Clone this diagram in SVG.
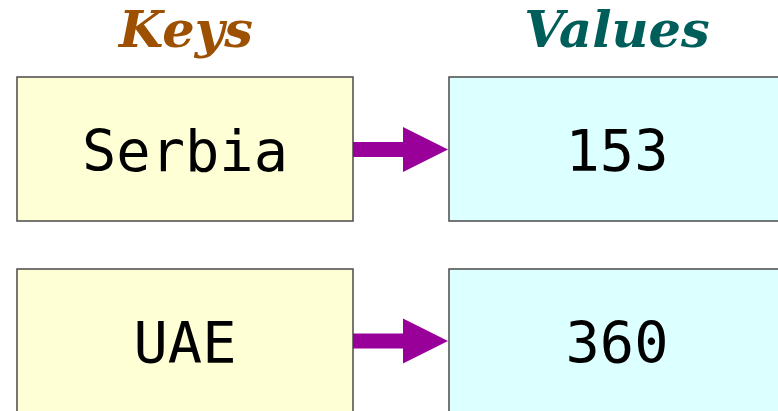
<svg xmlns="http://www.w3.org/2000/svg" width="778" height="411" viewBox="0 0 778 411">
  <defs>
    <style>
      .hdr { font-family: "DejaVu Serif", "Liberation Serif", serif; font-weight: bold; font-style: italic; font-size: 51px; text-anchor: middle; }
      .key rect { fill: #ffffd6; stroke: #4a4a4a; stroke-width: 1.5; }
      .val rect { fill: #dcffff; stroke: #4a4a4a; stroke-width: 1.5; }
      .lbl { font-family: "DejaVu Sans Mono", "Liberation Mono", monospace; font-size: 57px; fill: #000; text-anchor: middle; }
      .arrow { fill: #990099; }
    </style>
    <!-- block arrow centred on y=0, running from x=0 to x=95 -->
    <polygon id="blockArrow" points="0,-7.5 50,-7.5 50,-22.5 95,0 50,22.5 50,7.5 0,7.5"/>
  </defs>
  <rect width="778" height="411" fill="#ffffff"/>

  <text class="hdr" x="186" y="47" fill="#9c5000">Keys</text>
  <text class="hdr" x="617" y="47" fill="#005e5a">Values</text>

  <g id="key-serbia" class="key">
    <rect x="17" y="77" width="336" height="144"/>
    <text class="lbl" x="185" y="171">Serbia</text>
  </g>
  <g id="val-153" class="val">
    <rect x="449" y="77" width="336" height="144"/>
    <text class="lbl" x="617" y="171">153</text>
  </g>

  <g id="key-uae" class="key">
    <rect x="17" y="269" width="336" height="144"/>
    <text class="lbl" x="185" y="363">UAE</text>
  </g>
  <g id="val-360" class="val">
    <rect x="449" y="269" width="336" height="144"/>
    <text class="lbl" x="617" y="363">360</text>
  </g>

  <g id="connectors" class="arrow">
    <use href="#blockArrow" x="353" y="149.5"/>
    <use href="#blockArrow" x="353" y="341"/>
  </g>
</svg>
